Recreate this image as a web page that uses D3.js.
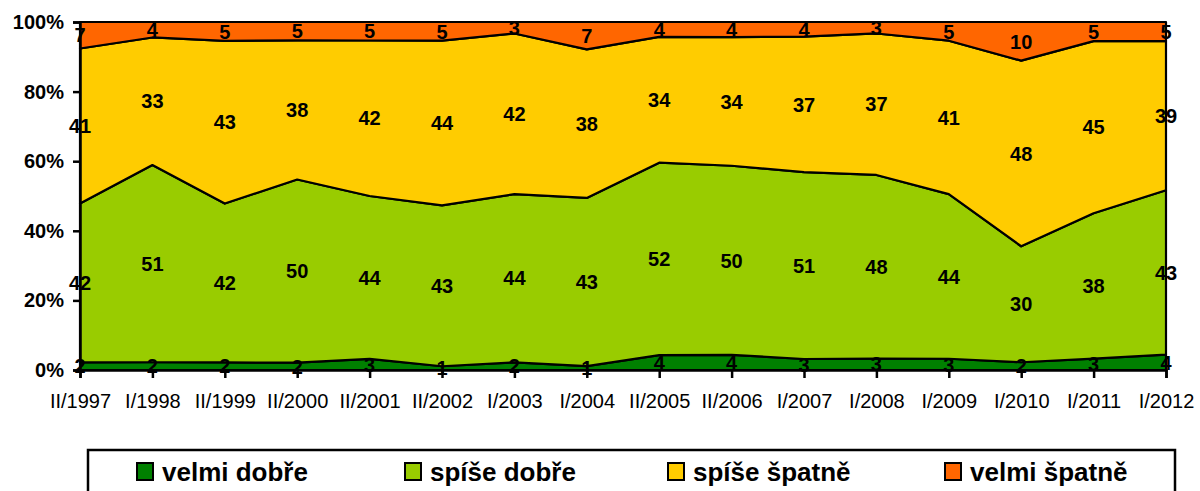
<html lang="cs">
<head>
<meta charset="utf-8">
<script src="https://d3js.org/d3.v7.min.js"></script>
<style>
  body { margin: 0; background: #fff; }
  svg text { font-family: "Liberation Sans", Arial, sans-serif; }
</style>
</head>
<body>
<svg id="chart" width="1200" height="491"></svg>
<script>
// data
const periods = ["II/1997", "I/1998", "II/1999", "II/2000", "II/2001", "II/2002", "I/2003", "I/2004",
                 "II/2005", "II/2006", "I/2007", "I/2008", "I/2009", "I/2010", "I/2011", "I/2012"];
const seriesNames = ["velmi dobře", "spíše dobře", "spíše špatně", "velmi špatně"];
const velmiDobre  = [2, 2, 2, 2, 3, 1, 2, 1, 4, 4, 3, 3, 3, 2, 3, 4];
const spiseDobre  = [42, 51, 42, 50, 44, 43, 44, 43, 52, 50, 51, 48, 44, 30, 38, 43];
const spiseSpatne = [41, 33, 43, 38, 42, 44, 42, 38, 34, 34, 37, 37, 41, 48, 45, 39];
const velmiSpatne = [7, 4, 5, 5, 5, 5, 3, 7, 4, 4, 4, 3, 5, 10, 5, 5];
const yTicks = [0, 0.2, 0.4, 0.6, 0.8, 1];

const colors = ["#008000", "#99cc00", "#ffcc00", "#ff6600"];
const allSeries = [velmiDobre, spiseDobre, spiseSpatne, velmiSpatne];

// build table for d3.stack (normalized to 100%)
const table = periods.map((p, i) => {
  const row = { period: p };
  seriesNames.forEach((s, k) => row[s] = allSeries[k][i]);
  return row;
});

const svg = d3.select("#chart");
const x = d3.scalePoint().domain(periods).range([80, 1166]);
const y = d3.scaleLinear().domain([0, 1]).range([370, 22]);

const stack = d3.stack().keys(seriesNames).offset(d3.stackOffsetExpand);
const layers = stack(table);

const area = d3.area()
  .x(d => x(d.data.period))
  .y0(d => y(d[0]))
  .y1(d => y(d[1]));

svg.append("g").selectAll("path")
  .data(layers)
  .join("path")
  .attr("d", area)
  .attr("fill", (d, i) => colors[i])
  .attr("stroke", "#000")
  .attr("stroke-width", 2.2)
  .attr("stroke-linejoin", "round");

// y axis
const yAxis = svg.append("g")
  .attr("transform", "translate(80,0)")
  .call(d3.axisLeft(y).tickValues(yTicks).tickFormat(d3.format(".0%")).tickSize(7).tickPadding(9));
yAxis.select(".domain").attr("stroke-width", 2.5);
yAxis.selectAll(".tick line").attr("stroke-width", 2.5);
yAxis.selectAll("text").attr("font-size", 20).attr("font-weight", "bold")
  .attr("font-family", "Liberation Sans, Arial, sans-serif").attr("fill", "#000");

// x axis
const xAxis = svg.append("g")
  .attr("transform", "translate(0,370)")
  .call(d3.axisBottom(x).tickSize(8).tickPadding(16));
xAxis.select(".domain").attr("stroke-width", 2.5);
xAxis.selectAll(".tick line").attr("stroke-width", 2.5);
xAxis.selectAll("text").attr("font-size", 20)
  .attr("font-family", "Liberation Sans, Arial, sans-serif").attr("fill", "#000");

// value labels centred in each band
layers.forEach((layer, k) => {
  svg.append("g").selectAll("text")
    .data(layer)
    .join("text")
    .attr("x", d => x(d.data.period))
    .attr("y", d => y((d[0] + d[1]) / 2))
    .attr("dy", "0.36em")
    .attr("text-anchor", "middle")
    .attr("font-size", 20)
    .attr("font-weight", "bold")
    .text((d, i) => allSeries[k][i]);
});

// legend
const legendX = [137, 405, 668, 945];
svg.append("rect")
  .attr("x", 88).attr("y", 450)
  .attr("width", 1087).attr("height", 60)
  .attr("fill", "#fff").attr("stroke", "#000").attr("stroke-width", 2.5);

const leg = svg.append("g").selectAll("g")
  .data(seriesNames)
  .join("g")
  .attr("transform", (d, i) => `translate(${legendX[i]},463)`);
leg.append("rect")
  .attr("width", 16).attr("height", 17)
  .attr("fill", (d, i) => colors[i])
  .attr("stroke", "#000").attr("stroke-width", 2);
leg.append("text")
  .attr("x", 25).attr("y", 18)
  .attr("font-size", 26).attr("font-weight", "bold")
  .text(d => d);
</script>
</body>
</html>
